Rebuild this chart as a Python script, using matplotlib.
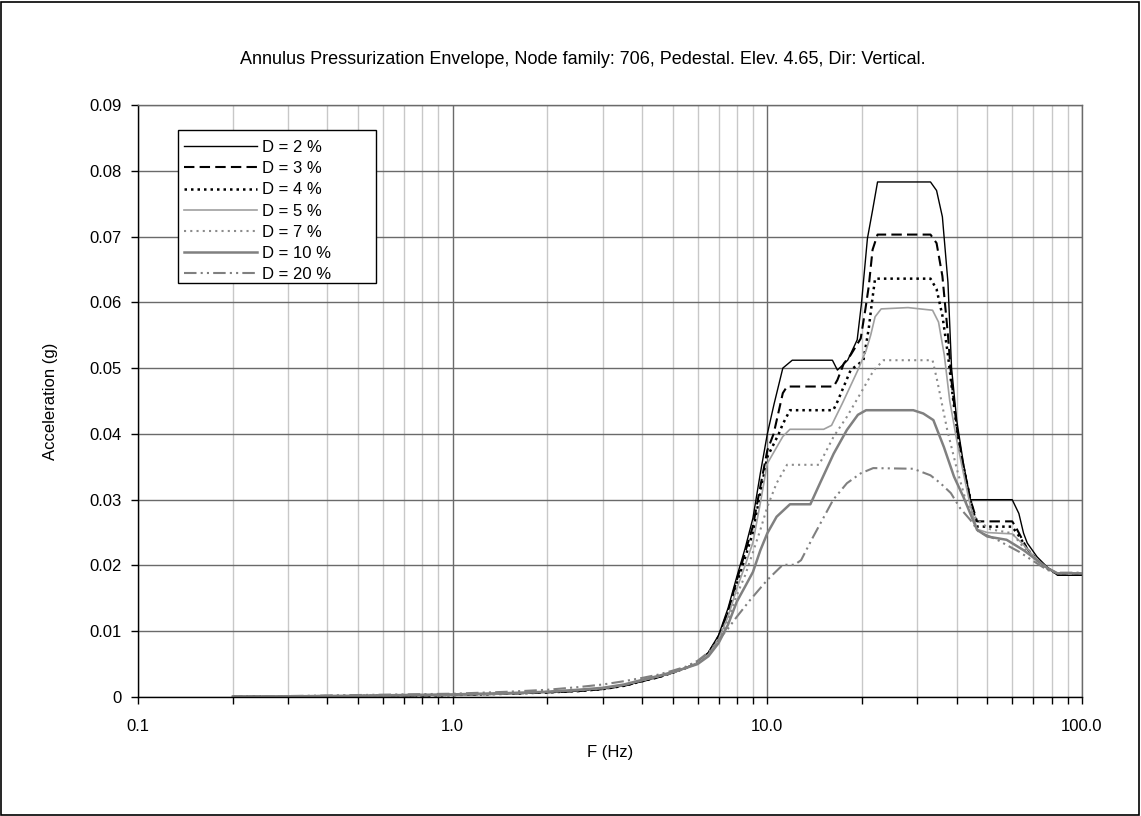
import matplotlib
matplotlib.use("Agg")
import matplotlib.pyplot as plt
from matplotlib.ticker import FixedLocator, FuncFormatter, LogLocator, NullFormatter
from matplotlib.patches import Rectangle

plt.rcParams['font.family'] = ['Liberation Sans', 'DejaVu Sans']

title = "Annulus Pressurization Envelope, Node family: 706, Pedestal. Elev. 4.65, Dir: Vertical."
x_label = "F (Hz)"
y_label = "Acceleration (g)"
x_ticks = [0.1, 1.0, 10.0, 100.0]
x_tick_labels = ["0.1", "1.0", "10.0", "100.0"]
y_ticks = [0, 0.01, 0.02, 0.03, 0.04, 0.05, 0.06, 0.07, 0.08, 0.09]

low_f = [0.2, 0.3, 0.5, 0.7, 1.0, 1.5, 2.0, 2.5, 3.0, 3.5, 4.0, 4.5, 5.0, 5.5, 6.0, 6.5, 7.0, 7.5]

f_d2 = low_f + [8.0, 8.5, 9.0, 9.5, 10.0, 10.5, 11.2, 12.0, 16.1, 16.7, 18.0, 19.3, 19.9, 20.8, 21.6, 22.4,
                33.0, 34.5, 36.0, 37.5, 38.5, 40.0, 42.0, 44.2, 60.0, 63.0, 65.2, 67.0, 72.0, 77.7, 83.6, 100.0]
a_d2 = [0.00005, 0.0001, 0.00015, 0.0002, 0.0003, 0.0005, 0.0007, 0.0009, 0.0012, 0.0017, 0.0024, 0.0030,
        0.0037, 0.0044, 0.0052, 0.0068, 0.0094, 0.0135,
        0.0183, 0.0226, 0.0272, 0.0340, 0.0400, 0.0445, 0.0500, 0.0512, 0.0512, 0.0497, 0.0512, 0.0543,
        0.0597, 0.0697, 0.0740, 0.0783,
        0.0783, 0.0770, 0.0730, 0.0630, 0.0500, 0.0420, 0.0355, 0.0300, 0.0300, 0.0279, 0.0249, 0.0234,
        0.0213, 0.0197, 0.0185, 0.0185]

f_d3 = low_f + [8.0, 8.5, 9.0, 9.5, 10.0, 10.47, 11.2, 11.55, 16.25, 16.7, 17.5, 18.4, 19.8, 20.5, 21.0, 21.6, 22.4,
                33.0, 34.5, 36.0, 37.5, 38.5, 40.0, 42.0, 44.2, 46.4, 60.0, 61.5, 67.0, 72.0, 77.7, 83.6, 100.0]
a_d3 = [0.00005, 0.0001, 0.00015, 0.0002, 0.0003, 0.0005, 0.0007, 0.0009, 0.0012, 0.0017, 0.0024, 0.0030,
        0.0037, 0.0044, 0.0052, 0.0067, 0.0092, 0.0130,
        0.0178, 0.0220, 0.0260, 0.0320, 0.0375, 0.0400, 0.0462, 0.0472, 0.0472, 0.0482, 0.0507, 0.0520,
        0.0545, 0.0590, 0.0624, 0.0680, 0.0703,
        0.0703, 0.0690, 0.0640, 0.0550, 0.0480, 0.0410, 0.0350, 0.0300, 0.0267, 0.0267, 0.0259, 0.0225,
        0.0208, 0.0196, 0.0187, 0.0187]

f_d4 = low_f + [8.0, 8.5, 9.0, 9.5, 10.0, 10.87, 11.2, 11.8, 16.2, 16.7, 18.4, 20.2, 21.0, 21.5, 22.0,
                33.0, 34.5, 36.0, 37.5, 39.0, 40.5, 42.0, 44.2, 46.4, 60.0, 63.0, 67.0, 72.0, 77.7, 83.6, 100.0]
a_d4 = [0.00005, 0.0001, 0.00015, 0.0002, 0.0003, 0.0005, 0.0007, 0.0009, 0.0012, 0.0017, 0.0024, 0.0030,
        0.0037, 0.0044, 0.0052, 0.0066, 0.0090, 0.0127,
        0.0172, 0.0212, 0.0250, 0.0310, 0.0365, 0.0400, 0.0415, 0.0436, 0.0436, 0.0449, 0.0497, 0.0512,
        0.0560, 0.0600, 0.0636,
        0.0636, 0.0620, 0.0580, 0.0520, 0.0450, 0.0390, 0.0350, 0.0300, 0.0259, 0.0259, 0.0245, 0.0225,
        0.0208, 0.0195, 0.0187, 0.0187]

f_d5 = low_f + [8.0, 8.5, 9.0, 9.5, 10.0, 11.2, 11.8, 15.1, 16.0, 17.3, 19.4, 20.6, 21.3, 22.0, 23.0, 28.0,
                33.5, 35.0, 36.5, 38.0, 40.0, 42.0, 44.2, 46.4, 50.0, 60.0, 65.0, 70.0, 77.7, 83.6, 100.0]
a_d5 = [0.00005, 0.0001, 0.00015, 0.0002, 0.0003, 0.0005, 0.0008, 0.0010, 0.0013, 0.0018, 0.0025, 0.0031,
        0.0037, 0.0044, 0.0052, 0.0065, 0.0088, 0.0122,
        0.0165, 0.0200, 0.0235, 0.0295, 0.0355, 0.0396, 0.0407, 0.0407, 0.0413, 0.0446, 0.0497, 0.0527,
        0.0550, 0.0578, 0.0590, 0.0592,
        0.0588, 0.0570, 0.0520, 0.0450, 0.0390, 0.0340, 0.0290, 0.0255, 0.0250, 0.0248, 0.0232, 0.0215,
        0.0195, 0.0188, 0.0188]

f_d7 = low_f + [8.0, 8.5, 9.0, 9.5, 10.0, 10.7, 11.55, 14.6, 16.25, 17.9, 19.8, 21.8, 23.4,
                33.5, 34.7, 37.3, 40.1, 43.0, 46.4, 51.1, 60.0, 65.0, 70.0, 77.7, 83.6, 100.0]
a_d7 = [0.00005, 0.0001, 0.00015, 0.0002, 0.0003, 0.0005, 0.0008, 0.0010, 0.0013, 0.0018, 0.0025, 0.0031,
        0.0037, 0.0044, 0.0051, 0.0064, 0.0085, 0.0117,
        0.0155, 0.0185, 0.0220, 0.0254, 0.0289, 0.0325, 0.0353, 0.0353, 0.0396, 0.0426, 0.0462, 0.0497,
        0.0512,
        0.0512, 0.0480, 0.0406, 0.0345, 0.0294, 0.0269, 0.0255, 0.0249, 0.0228, 0.0212, 0.0194, 0.0188,
        0.0188]

f_d10 = low_f + [8.0, 8.5, 9.0, 9.5, 10.0, 10.7, 11.8, 13.7, 14.7, 16.25, 17.9, 19.4, 20.6,
                 29.1, 31.3, 33.7, 36.4, 39.2, 42.0, 46.4, 50.0, 57.6, 65.3, 77.7, 83.6, 100.0]
a_d10 = [0.00005, 0.0001, 0.0002, 0.0003, 0.0004, 0.0006, 0.0008, 0.0011, 0.0014, 0.0019, 0.0026, 0.0032,
         0.0038, 0.0044, 0.0050, 0.0062, 0.0082, 0.0110,
         0.0145, 0.0168, 0.0190, 0.0223, 0.0249, 0.0274, 0.0293, 0.0293, 0.0325, 0.0370, 0.0406, 0.0429,
         0.0436,
         0.0436, 0.0431, 0.0421, 0.0380, 0.0335, 0.0304, 0.0254, 0.0244, 0.0239, 0.0223, 0.0196, 0.0188,
         0.0188]

f_d20 = low_f + [8.0, 8.8, 10.0, 11.2, 12.2, 12.8, 14.0, 16.2, 17.9, 19.8, 21.7,
                 29.1, 33.0, 35.5, 38.3, 41.0, 44.2, 47.0, 53.8, 57.6, 63.0, 72.0, 77.7, 83.6, 100.0]
a_d20 = [0.0001, 0.00015, 0.0003, 0.0004, 0.0005, 0.0008, 0.0011, 0.0015, 0.0019, 0.0024, 0.0029, 0.0034,
         0.0040, 0.0046, 0.0055, 0.0068, 0.0087, 0.0104,
         0.0122, 0.0147, 0.0178, 0.0201, 0.0201, 0.0208, 0.0244, 0.0300, 0.0325, 0.0340, 0.0348,
         0.0347, 0.0337, 0.0325, 0.0310, 0.0287, 0.0269, 0.0251, 0.0239, 0.0231, 0.0221, 0.0203, 0.0193,
         0.0189, 0.0189]

series = [
    ("D = 2 %", f_d2, a_d2, dict(color="black", lw=1.0, ls="-")),
    ("D = 3 %", f_d3, a_d3, dict(color="black", lw=1.5, ls=(0, (5, 2.5)))),
    ("D = 4 %", f_d4, a_d4, dict(color="black", lw=1.8, ls=(0, (1, 1.6)))),
    ("D = 5 %", f_d5, a_d5, dict(color="#a0a0a0", lw=1.2, ls="-")),
    ("D = 7 %", f_d7, a_d7, dict(color="#8c8c8c", lw=1.5, ls=(0, (1, 2)))),
    ("D = 10 %", f_d10, a_d10, dict(color="#808080", lw=1.8, ls="-")),
    ("D = 20 %", f_d20, a_d20, dict(color="#808080", lw=1.5, ls=(0, (6, 2, 1, 2, 1, 2)))),
]

W, H = 1141, 816
AX_L, AX_R, AX_T, AX_B = 138, 1082, 105, 697

fig = plt.figure(figsize=(W / 100, H / 100), dpi=100)
ax = fig.add_axes([AX_L / W, 1 - AX_B / H, (AX_R - AX_L) / W, (AX_B - AX_T) / H])

def ax_frac(px, py):
    return (px - AX_L) / (AX_R - AX_L), (AX_B - py) / (AX_B - AX_T)

ax.set_xscale("log")
ax.set_xlim(0.1, 100)
ax.set_ylim(0, 0.09)

ax.xaxis.set_major_locator(FixedLocator(x_ticks))
ax.xaxis.set_major_formatter(FuncFormatter(lambda v, p: x_tick_labels[x_ticks.index(v)] if v in x_ticks else ""))
ax.xaxis.set_minor_locator(LogLocator(base=10, subs=range(2, 10)))
ax.xaxis.set_minor_formatter(NullFormatter())
ax.yaxis.set_major_locator(FixedLocator(y_ticks))
ax.yaxis.set_major_formatter(FuncFormatter(lambda v, p: "0" if abs(v) < 1e-9 else f"{v:.2f}"))

ax.grid(True, which="major", axis="both", color="#6a6a6a", lw=1.0)
ax.grid(True, which="minor", axis="x", color="#c8c8c8", lw=1.0)
ax.set_axisbelow(True)

ax.tick_params(axis="both", which="both", direction="out", length=5, width=1, color="black",
               labelsize=12)
ax.tick_params(axis="x", which="both", pad=11)
ax.tick_params(axis="y", which="both", pad=7)
ax.tick_params(axis="y", which="minor", length=0)

for s in ["left", "bottom"]:
    ax.spines[s].set_color("black")
    ax.spines[s].set_linewidth(1.0)
for s in ["top", "right"]:
    ax.spines[s].set_color("#6a6a6a")
    ax.spines[s].set_linewidth(1.0)

for label, f, a, st in series:
    ax.plot(f, a, label=label, **st)

# legend box (drawn separately to get the wide right margin of the original)
lx0, ly0 = ax_frac(178, 283)
lx1, ly1 = ax_frac(376, 130)
ax.add_patch(Rectangle((lx0, ly0), lx1 - lx0, ly1 - ly0, transform=ax.transAxes,
                       facecolor="white", edgecolor="black", lw=1.0, zorder=4))

leg = ax.legend(loc="upper left", bbox_to_anchor=ax_frac(174, 130),
                borderaxespad=0, frameon=False,
                fontsize=12, handlelength=4.4, handletextpad=0.25, labelspacing=0.37,
                borderpad=0.6)
leg.set_zorder(5)

ax.set_xlabel(x_label, fontsize=12, labelpad=8)
ax.set_ylabel(y_label, fontsize=12, labelpad=22)

fig.text(583 / W, 1 - 60 / H, title, ha="center", va="center", fontsize=13)

fig.patches.append(Rectangle((0.001, 0.001), 0.997, 0.997, transform=fig.transFigure,
                             fill=False, edgecolor="black", lw=1.2))

fig.savefig("out.png", dpi=100)
